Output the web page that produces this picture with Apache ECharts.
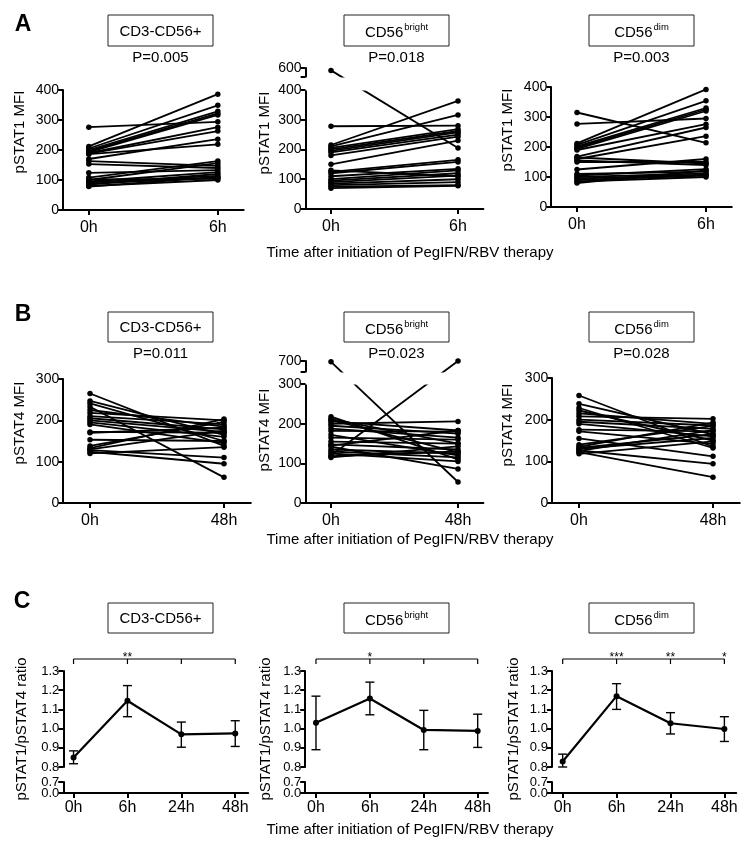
<!DOCTYPE html>
<html>
<head>
<meta charset="utf-8">
<script src="https://cdn.jsdelivr.net/npm/echarts@6.0.0/dist/echarts.min.js"></script>
<style>
html, body { margin: 0; padding: 0; background: #fff; }
#chart { width: 751px; height: 858px; }
</style>
</head>
<body>
<div id="chart"></div>
<script>
// ---- data ----
const pairTimesA = ['0h', '6h'];
const pairTimesB = ['0h', '48h'];
const ratioTimes = ['0h', '6h', '24h', '48h'];

// A: pSTAT1 MFI, 0h -> 6h
const a1Before = [276, 212, 205, 200, 196, 193, 190, 188, 186, 170, 163, 153, 124, 108, 100, 95, 92, 88, 85, 80, 78, 102];
const a1After = [294, 386, 349, 329, 322, 317, 276, 263, 219, 236, 147, 140, 133, 163, 156, 126, 114, 108, 120, 100, 110, 104];
const a2Before = [592, 278, 215, 210, 205, 200, 195, 190, 180, 150, 125, 120, 110, 100, 95, 90, 85, 80, 75, 70, 130];
const a2After = [205, 280, 363, 316, 268, 262, 257, 250, 243, 230, 165, 158, 135, 130, 120, 112, 100, 90, 80, 78, 110];
const a3Before = [315, 277, 212, 207, 202, 198, 194, 190, 168, 160, 150, 165, 155, 125, 110, 100, 95, 90, 85, 80, 105];
const a3After = [214, 295, 392, 354, 330, 325, 320, 276, 265, 236, 150, 145, 140, 160, 118, 112, 108, 105, 100, 122, 126];

// B: pSTAT4 MFI, 0h -> 48h
const b1Before = [265, 247, 241, 233, 225, 218, 210, 205, 200, 195, 190, 172, 170, 153, 138, 133, 128, 124, 120, 130];
const b1After = [138, 165, 150, 62, 185, 200, 190, 178, 172, 160, 145, 170, 182, 150, 196, 203, 110, 95, 135, 175];
const b2Before = [698, 120, 218, 212, 206, 200, 195, 188, 182, 172, 165, 155, 148, 142, 135, 130, 125, 118, 115, 145, 210];
const b2After = [53, 700, 110, 150, 183, 206, 175, 165, 180, 120, 160, 150, 135, 86, 125, 115, 105, 130, 143, 183, 128];
const b3Before = [258, 238, 228, 222, 215, 208, 200, 195, 190, 176, 172, 155, 140, 135, 130, 126, 122, 118, 132, 125];
const b3After = [135, 165, 132, 150, 190, 202, 186, 178, 160, 172, 142, 112, 185, 193, 156, 94, 62, 148, 165, 175];

// C: pSTAT1/pSTAT4 ratio, mean and error bar ends
const c1Mean = [0.850, 1.145, 0.970, 0.975];
const c1Low = [0.817, 1.062, 0.903, 0.907];
const c1High = [0.884, 1.224, 1.034, 1.041];
const c2Mean = [1.031, 1.157, 0.993, 0.988];
const c2Low = [0.890, 1.072, 0.890, 0.902];
const c2High = [1.169, 1.242, 1.095, 1.075];
const c3Mean = [0.829, 1.169, 1.028, 0.998];
const c3Low = [0.800, 1.100, 0.972, 0.933];
const c3High = [0.867, 1.234, 1.083, 1.062];
const c1Stars = ['', '**', '', ''];
const c2Stars = ['', '*', '', ''];
const c3Stars = ['', '***', '**', '*'];

const subsetNames = ['CD3-CD56+', '{a|CD56}{s|bright}', '{a|CD56}{s|dim}'];
const pValuesA = ['P=0.005', 'P=0.018', 'P=0.003'];
const pValuesB = ['P=0.011', 'P=0.023', 'P=0.028'];

// ---- layout ----
const FONT = '"Liberation Sans", Arial, Helvetica, sans-serif';
const pairPanels = [
  { before: a1Before, after: a1After, times: pairTimesA, rect: [63, 90, 180.6, 120], yMax: 400, ticks: [0, 100, 200, 300, 400] },
  { before: a2Before, after: a2After, times: pairTimesA, rect: [305.6, 68, 177.8, 141], yMax: 600,
    brk: { start: 400, end: 570, gap: '9.2%' }, ticks: [0, 100, 200, 300, 400, 570, 600], labels: [0, 100, 200, 300, 400, 600] },
  { before: a3Before, after: a3After, times: pairTimesA, rect: [551.2, 87, 180.6, 120], yMax: 400, ticks: [0, 100, 200, 300, 400] },
  { before: b1Before, after: b1After, times: pairTimesB, rect: [63.2, 379, 187.6, 124], yMax: 300, ticks: [0, 100, 200, 300] },
  { before: b2Before, after: b2After, times: pairTimesB, rect: [305.6, 361, 177.8, 142], yMax: 700,
    brk: { start: 300, end: 672, gap: '8.5%' }, ticks: [0, 100, 200, 300, 672, 700], labels: [0, 100, 200, 300, 700] },
  { before: b3Before, after: b3After, times: pairTimesB, rect: [552.2, 378, 187.6, 125], yMax: 300, ticks: [0, 100, 200, 300] }
];
const ratioPanels = [
  { mean: c1Mean, low: c1Low, high: c1High, stars: c1Stars, left: 63.3, xMin: -0.19, xMax: 3.24 },
  { mean: c2Mean, low: c2Low, high: c2High, stars: c2Stars, left: 305.2, xMin: -0.2, xMax: 3.19 },
  { mean: c3Mean, low: c3Low, high: c3High, stars: c3Stars, left: 551.9, xMin: -0.2, xMax: 3.22 }
];
const PX_PER_STEP = 53.9;
const bracketY = 1.3625;

const grids = [], xAxes = [], yAxes = [], series = [];

const axisLine = { show: true, onZero: false, lineStyle: { color: '#000', width: 2 } };
const tickStyle = { color: '#000', width: 2 };

pairPanels.forEach((p, gi) => {
  grids.push({ left: p.rect[0], top: p.rect[1], width: p.rect[2], height: p.rect[3], outerBoundsMode: 'none' });
  xAxes.push({
    gridIndex: gi, type: 'value', min: -0.2, max: 1.2,
    axisLine: axisLine,
    axisTick: { show: true, length: 5, lineStyle: tickStyle, customValues: [0, 1] },
    axisLabel: { customValues: [0, 1], formatter: v => p.times[Math.round(v)], color: '#000', fontSize: 16, fontFamily: FONT, margin: 10 },
    splitLine: { show: false }
  });
  const y = {
    gridIndex: gi, type: 'value', min: 0, max: p.yMax,
    axisLine: axisLine,
    axisTick: { show: true, length: 5, lineStyle: tickStyle, customValues: p.ticks },
    axisLabel: { customValues: p.labels || p.ticks, showMinLabel: true, showMaxLabel: true, color: '#000', fontSize: 14, fontFamily: FONT, margin: 4 },
    splitLine: { show: false }
  };
  if (p.brk) {
    y.breaks = [p.brk];
    y.breakArea = {
      show: true, expandOnClick: false, zigzagAmplitude: 0, zigzagZ: 100,
      itemStyle: { color: '#fff', borderColor: '#fff', borderWidth: 0, opacity: 1 }
    };
  }
  yAxes.push(y);
  p.before.forEach((v, i) => {
    series.push({
      type: 'line', xAxisIndex: gi, yAxisIndex: gi, silent: true,
      data: [[0, v], [1, p.after[i]]],
      symbol: 'circle', symbolSize: 5.5,
      lineStyle: { color: '#000', width: 1.8 },
      itemStyle: { color: '#000' }
    });
  });
});

ratioPanels.forEach((r, k) => {
  const gu = 6 + k, gl = 9 + k;
  const width = (r.xMax - r.xMin) * PX_PER_STEP;
  const xTicks = ratioTimes.map((t, i) => i);
  const yLabel = { color: '#000', fontSize: 13, fontFamily: FONT, margin: 4, formatter: v => v.toFixed(1) };
  grids[gu] = { left: r.left, top: 671, width: width, height: 96, outerBoundsMode: 'none' };
  grids[gl] = { left: r.left, top: 782, width: width, height: 11, outerBoundsMode: 'none' };
  xAxes[gu] = { gridIndex: gu, type: 'value', min: r.xMin, max: r.xMax, show: false };
  xAxes[gl] = {
    gridIndex: gl, type: 'value', min: r.xMin, max: r.xMax,
    axisLine: axisLine,
    axisTick: { show: true, length: 5, lineStyle: tickStyle, customValues: xTicks },
    axisLabel: { customValues: xTicks, formatter: v => ratioTimes[Math.round(v)], color: '#000', fontSize: 16, fontFamily: FONT, margin: 7 },
    splitLine: { show: false }
  };
  yAxes[gu] = {
    gridIndex: gu, type: 'value', min: 0.8, max: 1.3, interval: 0.1,
    axisLine: axisLine,
    axisTick: { show: true, length: 5, lineStyle: tickStyle },
    axisLabel: Object.assign({ showMinLabel: true, showMaxLabel: true }, yLabel),
    splitLine: { show: false }
  };
  yAxes[gl] = {
    gridIndex: gl, type: 'value', min: 0, max: 0.7,
    axisLine: axisLine,
    axisTick: { show: true, length: 5, lineStyle: tickStyle, customValues: [0, 0.7] },
    axisLabel: Object.assign({ customValues: [0], showMinLabel: true }, yLabel),
    splitLine: { show: false }
  };
  // second axis on the lower stub, only to carry the 0.7 label
  yAxes[12 + k] = {
    gridIndex: gl, type: 'value', min: 0, max: 0.7, position: 'left',
    axisLine: { show: false, onZero: false },
    axisTick: { show: false },
    axisLabel: Object.assign({ customValues: [0.7], showMaxLabel: true }, yLabel),
    splitLine: { show: false }
  };
  series.push({
    type: 'custom', xAxisIndex: gu, yAxisIndex: gu, silent: true, z: 3,
    data: r.mean.map((m, i) => [i, r.low[i], r.high[i]]),
    renderItem: (params, api) => {
      const top = api.coord([api.value(0), api.value(2)]);
      const bot = api.coord([api.value(0), api.value(1)]);
      const st = { stroke: '#000', lineWidth: 1.4 };
      return {
        type: 'group', children: [
          { type: 'line', shape: { x1: top[0], y1: top[1], x2: bot[0], y2: bot[1] }, style: st },
          { type: 'line', shape: { x1: top[0] - 4.5, y1: top[1], x2: top[0] + 4.5, y2: top[1] }, style: st },
          { type: 'line', shape: { x1: bot[0] - 4.5, y1: bot[1], x2: bot[0] + 4.5, y2: bot[1] }, style: st }
        ]
      };
    }
  });
  series.push({
    type: 'line', xAxisIndex: gu, yAxisIndex: gu, silent: true, z: 4,
    data: r.mean.map((m, i) => [i, m]),
    symbol: 'circle', symbolSize: 6,
    lineStyle: { color: '#000', width: 2.2 },
    itemStyle: { color: '#000' }
  });
  series.push({
    type: 'line', xAxisIndex: gu, yAxisIndex: gu, silent: true, clip: false,
    data: ratioTimes.map((t, i) => [i, bracketY]),
    symbol: 'rect', symbolSize: [1.2, 5], symbolOffset: [0, 2.5],
    lineStyle: { color: '#000', width: 1.1 },
    itemStyle: { color: '#000' },
    label: {
      show: true, position: 'top', distance: -5, fontSize: 12, fontFamily: FONT, color: '#000',
      formatter: pp => r.stars[pp.dataIndex]
    }
  });
});

// ---- annotations ----
const graphics = [];
const textEl = (text, x, y, size, extra) => Object.assign({
  type: 'text', x: x, y: y,
  style: { text: text, fill: '#000', fontSize: size, fontFamily: FONT, align: 'center', verticalAlign: 'middle' }
}, extra || {});

[['A', 23, 25], ['B', 23, 315], ['C', 22, 602]].forEach(l => {
  const t = textEl(l[0], l[1], l[2], 23);
  t.style.fontWeight = 'bold';
  graphics.push(t);
});

const boxX = [108, 344, 589];
[[15, 31], [312, 30], [603, 30]].forEach(row => {
  boxX.forEach((bx, c) => {
    graphics.push({ type: 'rect', shape: { x: bx, y: row[0], width: 105, height: row[1] },
      style: { fill: '#fff', stroke: '#222', lineWidth: 1 } });
    const t = textEl(subsetNames[c], bx + 52.5, row[0] + row[1] / 2 + 1, 15);
    t.style.rich = {
      a: { fontSize: 15, fontFamily: FONT, fill: '#000', lineHeight: 18, verticalAlign: 'bottom' },
      s: { fontSize: 9.5, fontFamily: FONT, fill: '#000', lineHeight: 18, verticalAlign: 'top', padding: [0, 0, 6, 1] }
    };
    graphics.push(t);
  });
});
boxX.forEach((bx, c) => {
  graphics.push(textEl(pValuesA[c], bx + 52.5, 58, 15));
  graphics.push(textEl(pValuesB[c], bx + 52.5, 354, 15));
});

const rot = { rotation: Math.PI / 2 };
[[20, 132], [265, 133], [508, 130]].forEach(p => graphics.push(textEl('pSTAT1 MFI', p[0], p[1], 15, rot)));
[[20, 423], [265, 430], [508, 425]].forEach(p => graphics.push(textEl('pSTAT4 MFI', p[0], p[1], 15, rot)));
[[22, 729], [266, 729], [514, 729]].forEach(p => graphics.push(textEl('pSTAT1/pSTAT4 ratio', p[0], p[1], 15, rot)));
[253, 540, 830].forEach(y => graphics.push(textEl('Time after initiation of PegIFN/RBV therapy', 410, y, 15)));

const chart = echarts.init(document.getElementById('chart'));
chart.setOption({
  animation: false,
  backgroundColor: '#fff',
  textStyle: { fontFamily: FONT },
  grid: grids,
  xAxis: xAxes,
  yAxis: yAxes,
  series: series,
  graphic: { elements: graphics }
});
</script>
</body>
</html>
